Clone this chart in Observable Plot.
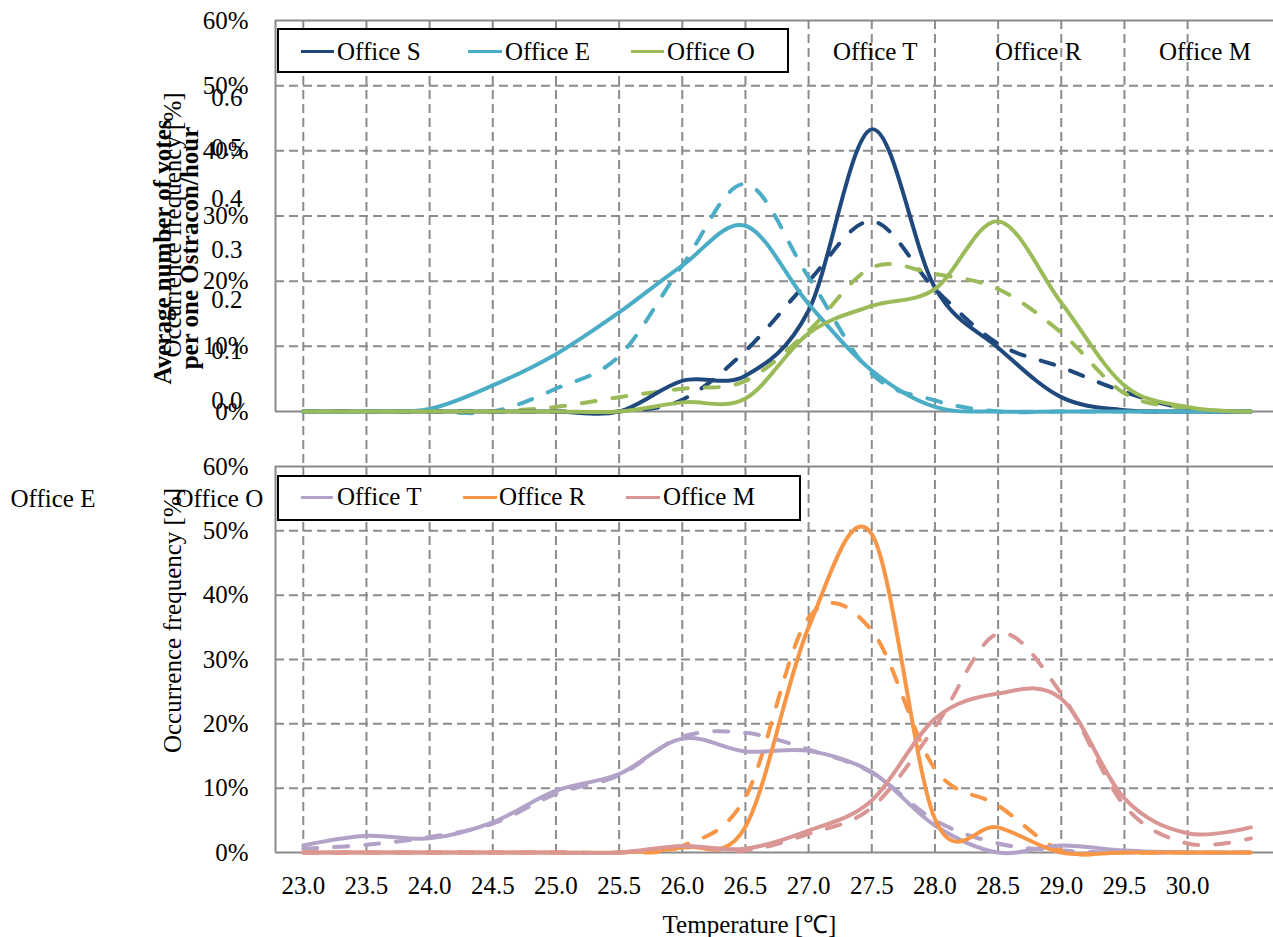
<!DOCTYPE html>
<html><head><meta charset="utf-8">
<script src="https://cdn.jsdelivr.net/npm/d3@7"></script>
<script src="https://cdn.jsdelivr.net/npm/@observablehq/plot@0.6"></script>
<style>
body{margin:0;background:#fff;}
#wrap{position:relative;width:1273px;height:937px;overflow:hidden;font-family:"Liberation Serif","Times New Roman",serif;color:#000;background:#fff;}
#wrap svg{position:absolute;left:0;}
.lg{position:absolute;border:2px solid #000;box-sizing:border-box;background:#fff;}
.it{position:absolute;font-size:25px;line-height:25px;white-space:nowrap;color:#000;}
.sw{position:absolute;height:3px;}
</style></head><body><div id="wrap"></div>
<script>
// ---------- data (percent values) ----------
const temps = [23.0,23.5,24.0,24.5,25.0,25.5,26.0,26.5,27.0,27.5,28.0,28.5,29.0,29.5,30.0,30.5];

const officeS_solid  = [0,0,0,0,0,0,4.7,5.5,15.5,43.3,19.0,9.8,2.2,0.2,0,0];
const officeS_dashed = [0,0,0,0,0,0,1.8,9.3,20.0,29.2,18.8,10.4,6.8,3.0,0.4,0];
const officeE_solid  = [0,0,0.4,4.0,8.8,15.2,22.4,28.5,16.5,6.3,0.7,0,0,0,0,0];
const officeE_dashed = [0,0,0,0,3.5,8.5,22.4,34.9,20.6,5.8,1.7,0,0,0,0,0];
const officeO_solid  = [0,0,0,0,0,0,1.4,2.0,12.0,16.2,18.8,29.2,16.7,4.0,0.7,0];
const officeO_dashed = [0,0,0,0,0.7,2.2,3.5,4.7,12.4,22.1,21.1,18.8,12.1,2.8,0.5,0];

const officeT_solid  = [1.1,2.6,2.2,4.7,9.6,12.2,17.7,15.7,15.8,12.5,4.2,0,1.1,0.3,0,0];
const officeT_dashed = [0.6,1.2,2.4,4.5,9.1,12.0,18.0,18.6,16.0,12.4,5.0,1.4,0.3,0,0,0];
const officeR_solid  = [0,0,0,0,0,0,0.8,4.0,35.0,49.5,5.2,3.9,0,0,0,0];
const officeR_dashed = [0,0,0,0,0,0,1.0,8.6,36.5,34.5,13.0,7.3,0.3,0,0,0];
const officeM_solid  = [0,0,0,0,0,0,1.0,0.6,3.4,8.1,20.8,24.7,23.9,8.4,3.0,3.9];
const officeM_dashed = [0,0,0,0,0,0,0.8,0.3,2.9,7.0,19.5,34.0,24.7,7.3,1.4,2.2];

const yTicks = [0,0.1,0.2,0.3,0.4,0.5,0.6];
const xTicks = [23.0,23.5,24.0,24.5,25.0,25.5,26.0,26.5,27.0,27.5,28.0,28.5,29.0,29.5,30.0];
const voteTicks = [0.0,0.1,0.2,0.3,0.4,0.5,0.6];

const topNames = ["Office S","Office E","Office O"];
const topColors = ["#1F497D","#4BACC6","#9BBB59"];
const botNames = ["Office T","Office R","Office M"];
const botColors = ["#B3A2C7","#F79646","#D99694"];

const topSolid = [officeS_solid, officeE_solid, officeO_solid];
const topDashed = [officeS_dashed, officeE_dashed, officeO_dashed];
const botSolid = [officeT_solid, officeR_solid, officeM_solid];
const botDashed = [officeT_dashed, officeR_dashed, officeM_dashed];

// ---------- helpers ----------
function rows(names, series) {
  const out = [];
  names.forEach((n, i) => series[i].forEach((v, j) => out.push({t: temps[j], v: v / 100, office: n})));
  return out;
}
const GRID = "#8c8c8c", FRAME = "#8a8a8a";
const xDomain = [22.78, 30.68];
const FONT = "'Liberation Serif','Times New Roman',serif";
const pct = d3.format(".0%");

function gridMarks(yBottomExt) {
  return [
    Plot.ruleY(yTicks.slice(1, -1), {stroke: GRID, strokeWidth: 2, strokeDasharray: "9,5"}),
    Plot.ruleX(xTicks, {y1: 0.6, y2: yBottomExt, stroke: GRID, strokeWidth: 2, strokeDasharray: "9,5"}),
    Plot.ruleY([0, 0.6], {stroke: FRAME, strokeWidth: 2}),
    Plot.ruleX([xDomain[0]], {y1: 0, y2: 0.6, stroke: FRAME, strokeWidth: 2}),
    Plot.axisY(yTicks, {tickSize: 0, tickPadding: 27, tickFormat: pct, fontSize: 25, label: null})
  ];
}
function dataMarks(names, solid, dashed) {
  return [
    Plot.line(rows(names, dashed), {x: "t", y: "v", z: "office", stroke: "office", strokeWidth: 4, strokeDasharray: "14,17", strokeLinecap: "round", curve: "cardinal"}),
    Plot.line(rows(names, solid), {x: "t", y: "v", z: "office", stroke: "office", strokeWidth: 4, curve: "cardinal"})
  ];
}
const title = (txt, dx, dy, bold) => Plot.text([txt], {frameAnchor: "left", dx, dy, rotate: -90, textAnchor: "middle", lineAnchor: "middle", fontSize: 25, fontWeight: bold ? "bold" : "normal", fill: "#000"});

// ---------- top panel ----------
const topPlot = Plot.plot({
  width: 1273, height: 466, marginLeft: 275, marginRight: 0, marginTop: 20, marginBottom: 55,
  x: {domain: xDomain, axis: null},
  y: {domain: [0, 0.6], axis: null},
  color: {domain: topNames, range: topColors},
  style: {fontFamily: FONT, fontSize: "25px", color: "#000", background: "transparent", overflow: "visible"},
  marks: [
    ...gridMarks(-0.0844),
    Plot.text(voteTicks, {y: d => 0.0154 + d * 0.7773, frameAnchor: "left", dx: -33, textAnchor: "end", lineAnchor: "middle", text: d => d.toFixed(1), fontSize: 25, fill: "#000"}),
    title("Occurrence frequency [%]", -103, 9, false),
    title("Average number of votes", -113, 36, true),
    title("per one Ostracon/hour", -86, 32, true),
    ...dataMarks(topNames, topSolid, topDashed)
  ]
});
topPlot.style.top = "0px";

// ---------- bottom panel ----------
const botPlot = Plot.plot({
  width: 1273, height: 491, marginLeft: 275, marginRight: 0, marginTop: 20, marginBottom: 85,
  x: {domain: xDomain, axis: null},
  y: {domain: [0, 0.6], axis: null},
  color: {domain: botNames, range: botColors},
  style: {fontFamily: FONT, fontSize: "25px", color: "#000", background: "transparent", overflow: "visible"},
  marks: [
    ...gridMarks(0),
    Plot.axisX(xTicks, {tickSize: 0, tickPadding: 24, tickFormat: d3.format(".1f"), fontSize: 25, label: null}),
    Plot.text(["Temperature [℃]"], {frameAnchor: "bottom", dx: -25, dy: 72, textAnchor: "middle", lineAnchor: "middle", fontSize: 25, fill: "#000"}),
    title("Occurrence frequency [%]", -103, -39, false),
    Plot.text([topNames[1]], {frameAnchor: "top-left", dx: -265, dy: 32, textAnchor: "start", lineAnchor: "middle", fontSize: 25, fill: "#000"}),
    Plot.text([topNames[2]], {frameAnchor: "top-left", dx: -100, dy: 32, textAnchor: "start", lineAnchor: "middle", fontSize: 25, fill: "#000"}),
    ...dataMarks(botNames, botSolid, botDashed)
  ]
});
botPlot.style.top = "446px";

const wrap = document.getElementById("wrap");
wrap.appendChild(topPlot);
wrap.appendChild(botPlot);

// ---------- legends ----------
function box(l, t, r, b) {
  const d = document.createElement("div");
  d.className = "lg";
  Object.assign(d.style, {left: l + "px", top: t + "px", width: (r - l) + "px", height: (b - t) + "px"});
  wrap.appendChild(d);
}
function item(label, color, lineL, lineR, textL, yc) {
  if (color) {
    const s = document.createElement("div");
    s.className = "sw";
    Object.assign(s.style, {left: lineL + "px", width: (lineR - lineL) + "px", top: (yc - 1.5) + "px", background: color});
    wrap.appendChild(s);
  }
  const t = document.createElement("div");
  t.className = "it";
  t.textContent = label;
  Object.assign(t.style, {left: textL + "px", top: (yc - 12.6) + "px"});
  wrap.appendChild(t);
}
box(277, 28, 789, 73);
item(topNames[0], topColors[0], 301, 334, 337, 51.5);
item(topNames[1], topColors[1], 468, 502, 505, 51.5);
item(topNames[2], topColors[2], 631, 664, 667, 51.5);
item(botNames[0], null, 0, 0, 833, 51.5);
item(botNames[1], null, 0, 0, 995, 51.5);
item(botNames[2], null, 0, 0, 1159, 51.5);

box(277, 475, 801, 521);
item(botNames[0], botColors[0], 301, 333, 337, 497);
item(botNames[1], botColors[1], 463, 497, 499, 497);
item(botNames[2], botColors[2], 626, 660, 663, 497);
</script></body></html>
